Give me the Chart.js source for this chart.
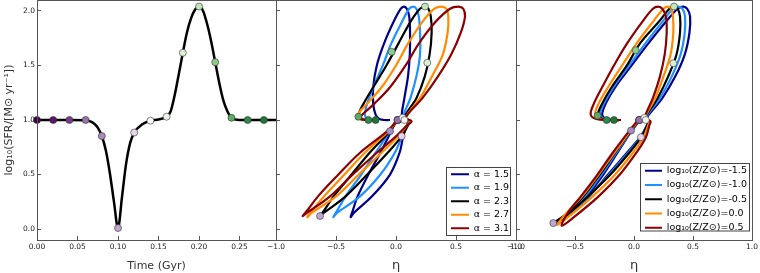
<!DOCTYPE html>
<html>
<head>
<meta charset="utf-8">
<script src="https://cdn.jsdelivr.net/npm/chart.js@4.4.0/dist/chart.umd.min.js"></script>
<style>
html,body{margin:0;padding:0;background:#fff;}
#wrap{position:relative;width:760px;height:273px;overflow:hidden;}
#wrap canvas{position:absolute;left:0;top:0;}
</style>
</head>
<body>
<div id="wrap">
  <canvas id="left" width="760" height="273"></canvas>
  <canvas id="mid" width="760" height="273"></canvas>
  <canvas id="right" width="760" height="273"></canvas>
</div>
<script>
// ---- left panel: log SFR vs time
const sfrTime = [0, 0.02, 0.04, 0.06, 0.065, 0.07, 0.075, 0.08, 0.085, 0.09, 0.095, 0.10, 0.105, 0.11, 0.115, 0.12, 0.13, 0.14, 0.15, 0.16, 0.165, 0.17, 0.175, 0.18, 0.185, 0.19, 0.195, 0.20, 0.205, 0.21, 0.215, 0.22, 0.225, 0.23, 0.235, 0.24, 0.25, 0.26, 0.28, 0.295];
const sfrLog  = [1.0, 1.0, 1.0, 0.998, 0.99, 0.97, 0.93, 0.853, 0.72, 0.51, 0.25, 0.01, 0.3, 0.6, 0.79, 0.885, 0.96, 0.994, 1.005, 1.03, 1.08, 1.23, 1.42, 1.616, 1.80, 1.93, 2.01, 2.04, 2.0, 1.88, 1.72, 1.53, 1.34, 1.18, 1.08, 1.02, 1.0, 1.0, 1.0, 1.0];

const dotTime = [0, 0.02, 0.04, 0.06, 0.08, 0.10, 0.12, 0.14, 0.16, 0.18, 0.20, 0.22, 0.24, 0.26, 0.28];
const dotSfr  = [1.0, 1.0, 1.0, 1.0, 0.853, 0.01, 0.885, 0.994, 1.03, 1.616, 2.04, 1.53, 1.02, 1.0, 1.0];
const dotColors = ['#40004b','#5a1668','#7b3b8c','#9970ab','#a98bc4','#c2a5cf','#e7d4e8','#f7f7f7','#eef6ec','#d9f0d3','#c2e6bb','#8ccc88','#5aae61','#2c8a48','#1b7837'];

// ---- middle panel: eta loops for IMF slope alpha
const alphaLabels = ['α = 1.5', 'α = 1.9', 'α = 2.3', 'α = 2.7', 'α = 3.1'];
const a15Eta = [0.0, -0.04, -0.13, -0.23, -0.32, -0.36, -0.378, -0.35, -0.2, -0.05, 0.03, 0.06, 0.09, 0.1, 0.05, 0.07, 0.1, 0.115, 0.117, 0.11, 0.09, 0.067, 0.04, -0.02, -0.1, -0.16, -0.19, -0.19, -0.17, -0.14, -0.1, -0.05];
const a15Sfr = [1.0, 0.9, 0.7, 0.5, 0.3, 0.17, 0.11, 0.15, 0.3, 0.5, 0.7, 0.85, 0.95, 0.99, 1.02, 1.2, 1.4, 1.6, 1.8, 1.95, 2.02, 2.04, 2.02, 1.9, 1.7, 1.5, 1.3, 1.15, 1.05, 1.01, 1.0, 1.0];
const a19Eta = [0.005, -0.05, -0.17, -0.29, -0.42, -0.49, -0.522, -0.49, -0.3, -0.13, -0.01, 0.05, 0.09, 0.11, 0.06, 0.12, 0.17, 0.2, 0.2, 0.19, 0.17, 0.144, 0.11, 0.05, -0.04, -0.11, -0.19, -0.24, -0.26, -0.24, -0.2, -0.17];
const a19Sfr = [1.0, 0.9, 0.7, 0.5, 0.3, 0.17, 0.11, 0.15, 0.3, 0.5, 0.7, 0.85, 0.95, 0.99, 1.02, 1.2, 1.4, 1.6, 1.8, 1.95, 2.02, 2.04, 2.02, 1.9, 1.7, 1.5, 1.3, 1.15, 1.05, 1.01, 1.0, 1.0];
const a23Eta = [0.014, -0.05, -0.22, -0.37, -0.52, -0.6, -0.633, -0.6, -0.42, -0.24, -0.07, 0.047, 0.1, 0.12, 0.07, 0.17, 0.24, 0.28, 0.297, 0.29, 0.27, 0.242, 0.2, 0.12, 0.02, -0.08, -0.19, -0.27, -0.31, -0.28, -0.23, -0.15];
const a23Sfr = [1.0, 0.9, 0.7, 0.5, 0.3, 0.17, 0.12, 0.15, 0.3, 0.5, 0.7, 0.85, 0.95, 0.99, 1.02, 1.2, 1.4, 1.6, 1.8, 1.95, 2.02, 2.04, 2.02, 1.9, 1.7, 1.5, 1.3, 1.15, 1.05, 1.01, 1.0, 1.0];
const a27Eta = [0.01, -0.06, -0.26, -0.43, -0.6, -0.7, -0.739, -0.7, -0.5, -0.31, -0.12, 0.02, 0.09, 0.12, 0.08, 0.2, 0.3, 0.39, 0.43, 0.436, 0.42, 0.38, 0.32, 0.22, 0.1, 0.0, -0.12, -0.24, -0.32, -0.3, -0.25, -0.17];
const a27Sfr = [1.0, 0.9, 0.7, 0.5, 0.3, 0.17, 0.11, 0.15, 0.3, 0.5, 0.7, 0.85, 0.95, 0.99, 1.02, 1.2, 1.4, 1.6, 1.8, 1.95, 2.02, 2.04, 2.02, 1.9, 1.7, 1.5, 1.3, 1.15, 1.05, 1.01, 1.0, 1.0];
const a31Eta = [0.01, -0.07, -0.3, -0.48, -0.65, -0.74, -0.778, -0.74, -0.55, -0.36, -0.16, 0.0, 0.09, 0.13, 0.08, 0.22, 0.35, 0.46, 0.54, 0.575, 0.56, 0.52, 0.45, 0.33, 0.19, 0.08, -0.05, -0.18, -0.28, -0.3, -0.25, -0.17];
const a31Sfr = [1.0, 0.9, 0.7, 0.5, 0.3, 0.17, 0.12, 0.15, 0.3, 0.5, 0.7, 0.85, 0.95, 0.99, 1.02, 1.2, 1.4, 1.6, 1.8, 1.95, 2.02, 2.04, 2.02, 1.9, 1.7, 1.5, 1.3, 1.15, 1.05, 1.01, 1.0, 1.0];
const midDotEta = [0.014, 0.014, 0.014, 0.014, -0.05, -0.633, 0.047, 0.055, 0.07, 0.261, 0.242, -0.036, -0.314, -0.23, -0.17];
const midDotSfr = [1.0, 1.0, 1.0, 1.0, 0.898, 0.12, 0.852, 1.02, 1.0, 1.525, 2.04, 1.625, 1.03, 1.0, 1.0];

// ---- right panel: eta loops for metallicity
const zLabels = ['log₁₀(Z/Z⊙)=-1.5', 'log₁₀(Z/Z⊙)=-1.0', 'log₁₀(Z/Z⊙)=-0.5', 'log₁₀(Z/Z⊙)=0.0', 'log₁₀(Z/Z⊙)=0.5'];
const zm15Eta = [0.05, -0.02, -0.14, -0.26, -0.4, -0.53, -0.66, -0.58, -0.38, -0.22, -0.06, 0.05, 0.11, 0.12, 0.1, 0.24, 0.35, 0.43, 0.47, 0.475, 0.45, 0.418, 0.37, 0.27, 0.12, -0.02, -0.16, -0.24, -0.27, -0.24, -0.18, -0.12];
const zm15Sfr = [1.0, 0.9, 0.7, 0.5, 0.3, 0.15, 0.06, 0.1, 0.3, 0.5, 0.7, 0.84, 0.95, 0.99, 1.01, 1.2, 1.4, 1.6, 1.8, 1.95, 2.02, 2.04, 2.02, 1.9, 1.7, 1.5, 1.3, 1.15, 1.05, 1.01, 1.0, 1.0];
const zm10Eta = [0.048, -0.022, -0.15, -0.275, -0.415, -0.545, -0.67, -0.59, -0.385, -0.21, -0.05, 0.055, 0.11, 0.12, 0.095, 0.22, 0.32, 0.395, 0.43, 0.432, 0.41, 0.376, 0.33, 0.24, 0.095, -0.04, -0.175, -0.255, -0.288, -0.255, -0.19, -0.12];
const zm10Sfr = [1.0, 0.9, 0.7, 0.5, 0.3, 0.15, 0.05, 0.1, 0.3, 0.5, 0.7, 0.84, 0.95, 0.99, 1.01, 1.2, 1.4, 1.6, 1.8, 1.95, 2.02, 2.04, 2.02, 1.9, 1.7, 1.5, 1.3, 1.15, 1.05, 1.01, 1.0, 1.0];
const zm05Eta = [0.045, -0.025, -0.16, -0.29, -0.43, -0.56, -0.684, -0.6, -0.39, -0.2, -0.04, 0.06, 0.11, 0.12, 0.09, 0.2, 0.29, 0.36, 0.39, 0.39, 0.37, 0.339, 0.3, 0.21, 0.05, -0.06, -0.19, -0.27, -0.305, -0.27, -0.2, -0.12];
const zm05Sfr = [1.0, 0.9, 0.7, 0.5, 0.3, 0.15, 0.055, 0.1, 0.3, 0.5, 0.7, 0.84, 0.95, 0.99, 1.01, 1.2, 1.4, 1.6, 1.8, 1.95, 2.02, 2.04, 2.02, 1.9, 1.7, 1.5, 1.3, 1.15, 1.05, 1.01, 1.0, 1.0];
const z00Eta = [0.04, -0.03, -0.165, -0.3, -0.44, -0.57, -0.65, -0.57, -0.35, -0.16, -0.01, 0.08, 0.12, 0.13, 0.09, 0.18, 0.25, 0.31, 0.333, 0.33, 0.315, 0.291, 0.25, 0.16, 0.02, -0.1, -0.22, -0.3, -0.33, -0.29, -0.21, -0.12];
const z00Sfr = [1.0, 0.9, 0.7, 0.5, 0.3, 0.15, 0.04, 0.1, 0.3, 0.5, 0.7, 0.84, 0.95, 0.99, 1.01, 1.2, 1.4, 1.6, 1.8, 1.95, 2.02, 2.04, 2.02, 1.9, 1.7, 1.5, 1.3, 1.15, 1.05, 1.01, 1.0, 1.0];
const z05Eta = [0.035, -0.04, -0.18, -0.31, -0.45, -0.56, -0.613, -0.52, -0.3, -0.12, 0.02, 0.1, 0.13, 0.14, 0.09, 0.16, 0.22, 0.26, 0.277, 0.27, 0.24, 0.206, 0.16, 0.07, -0.06, -0.17, -0.27, -0.34, -0.367, -0.32, -0.22, -0.11];
const z05Sfr = [1.0, 0.9, 0.7, 0.5, 0.3, 0.15, 0.03, 0.1, 0.3, 0.5, 0.7, 0.84, 0.95, 0.99, 1.01, 1.2, 1.4, 1.6, 1.8, 1.95, 2.02, 2.04, 2.02, 1.9, 1.7, 1.5, 1.3, 1.15, 1.05, 1.01, 1.0, 1.0];
const rightDotEta = [0.045, 0.045, 0.045, 0.045, -0.025, -0.684, 0.059, 0.088, 0.10, 0.333, 0.339, 0.014, -0.308, -0.232, -0.17];
const rightDotSfr = [1.0, 1.0, 1.0, 1.0, 0.904, 0.055, 0.843, 1.02, 1.0, 1.52, 2.04, 1.64, 1.04, 1.0, 1.0];

const lineColors = ['#00008b', '#1e90ff', '#000000', '#ff8c00', '#8b0000'];
const yTicks = [0, 0.5, 1.0, 1.5, 2.0];
const timeTicks = [0, 0.05, 0.10, 0.15, 0.20, 0.25];
const etaTicks = [-1.0, -0.5, 0, 0.5, 1.0];

const tickFont = {family: 'DejaVu Sans', size: 7.5};
const fmt = (v, d) => (v < 0 ? '−' : '') + Math.abs(v).toFixed(d);
const pairs = (xs, ys) => xs.map((x, i) => ({x, y: ys[i]}));

const frame = {
  id: 'frame',
  afterDraw(chart) {
    const a = chart.chartArea, c = chart.ctx;
    c.save();
    c.strokeStyle = '#555'; c.lineWidth = 1;
    c.strokeRect(Math.round(a.left) + 0.5, Math.round(a.top) + 0.5, Math.round(a.right - a.left), Math.round(a.bottom - a.top));
    c.restore();
  }
};

// put the legend where matplotlib had it and give it a box
const legendSpot = {
  id: 'legendSpot',
  afterLayout(chart, args, o) {
    const lg = chart.legend;
    if (!lg || o.x === undefined) return;
    lg.left = o.x; lg.right = o.x + lg.width;
    lg.top = o.y; lg.bottom = chart.height;
  },
  beforeDraw(chart, args, o) {
    if (o.box === undefined) return;
    const c = chart.ctx, b = o.box;
    c.save();
    c.fillStyle = '#fff'; c.fillRect(b[0], b[1], b[2], b[3]);
    c.strokeStyle = '#444'; c.lineWidth = 1; c.strokeRect(b[0], b[1], b[2], b[3]);
    c.restore();
  }
};

function lineSet(label, color, eta, sfr, order) {
  return {label, data: pairs(eta, sfr), showLine: true, borderColor: color, backgroundColor: color,
    borderWidth: 2.2, pointRadius: 0, pointHoverRadius: 0, pointBorderWidth: 2, tension: 0.35, order};
}
function dotSet(xs, ys) {
  return {label: '', data: pairs(xs, ys), showLine: false, pointRadius: 3.5, pointBackgroundColor: dotColors,
    pointBorderColor: '#333', pointBorderWidth: 0.6, clip: false, order: 0};
}

function scales(o) {
  return {
    x: {type: 'linear', position: 'bottom', min: o.xmin, max: o.xmax,
      afterBuildTicks: s => { s.ticks = o.xticks.map(v => ({value: v})); },
      afterFit: s => { s.height = 33; s.paddingLeft = 0; s.paddingRight = 0; },
      grid: {drawOnChartArea: false, tickLength: -4, color: '#555'},
      border: {display: false},
      ticks: {font: tickFont, color: '#222', padding: 6.5, maxRotation: 0, autoSkip: false, callback: v => fmt(v, o.xdec)},
      title: {display: true, text: o.xtitle, font: {family: 'DejaVu Sans', size: o.xsize}, color: '#333', padding: {top: 0, bottom: 0}}},
    y: {type: 'linear', position: 'left', min: -0.1, max: 2.1,
      afterBuildTicks: s => { s.ticks = yTicks.map(v => ({value: v})); },
      afterFit: s => { s.width = o.yw; s.paddingTop = 0; s.paddingBottom = 0; },
      grid: {drawOnChartArea: false, tickLength: -4, color: '#555'},
      border: {display: false},
      ticks: {display: o.ylab, font: tickFont, color: '#222', padding: 6, callback: v => fmt(v, 1)},
      title: {display: o.ylab, text: 'log₁₀(SFR/[M⊙ yr⁻¹])', font: {family: 'DejaVu Sans', size: 11}, color: '#333', padding: {top: 3, bottom: 0}}}
  };
}

function legendOpts(width, pad) {
  return {display: true, position: 'chartArea', align: 'start',
    labels: {usePointStyle: true, pointStyle: 'line', pointStyleWidth: width, padding: pad,
      font: {family: 'DejaVu Sans', size: 9.5}, color: '#000',
      filter: it => it.text !== '', sort: (a, b) => a.datasetIndex - b.datasetIndex}};
}

function makeChart(id, datasets, sc, pad, legend, spot) {
  return new Chart(document.getElementById(id), {
    type: 'scatter',
    data: {datasets},
    options: {
      responsive: false, animation: false, devicePixelRatio: 1, events: [],
      layout: {padding: {left: pad[0], right: pad[1], top: 0, bottom: 0}, autoPadding: false},
      scales: sc,
      plugins: {legend, tooltip: {enabled: false}, legendSpot: spot}
    },
    plugins: [frame, legendSpot]
  });
}

makeChart('left', [
  dotSet(dotTime, dotSfr),
  {label: 'SFR', data: pairs(sfrTime, sfrLog), showLine: true, borderColor: '#000', borderWidth: 2.5,
   pointRadius: 0, cubicInterpolationMode: 'monotone', order: 1}
], scales({xmin: 0, xmax: 0.295, xticks: timeTicks, xdec: 2, xtitle: 'Time (Gyr)', xsize: 11, yw: 37, ylab: true}),
  [0, 484], {display: false}, {});

const midSets = [[a15Eta, a15Sfr], [a19Eta, a19Sfr], [a23Eta, a23Sfr], [a27Eta, a27Sfr], [a31Eta, a31Sfr]];
makeChart('mid', [dotSet(midDotEta, midDotSfr)].concat(
  midSets.map((s, i) => lineSet(alphaLabels[i], lineColors[i], s[0], s[1], 5 - i))),
  scales({xmin: -1, xmax: 1, xticks: etaTicks, xdec: 1, xtitle: 'η', xsize: 13, yw: 0, ylab: false}),
  [276, 244], legendOpts(18, 4), {x: 447, y: 165.5, box: [446.5, 167.5, 64, 68]});

const rightSets = [[zm15Eta, zm15Sfr], [zm10Eta, zm10Sfr], [zm05Eta, zm05Sfr], [z00Eta, z00Sfr], [z05Eta, z05Sfr]];
makeChart('right', [dotSet(rightDotEta, rightDotSfr)].concat(
  rightSets.map((s, i) => lineSet(zLabels[i], lineColors[i], s[0], s[1], 5 - i))),
  scales({xmin: -1, xmax: 1, xticks: etaTicks, xdec: 1, xtitle: 'η', xsize: 13, yw: 0, ylab: false}),
  [516, 8], legendOpts(17, 4.75), {x: 640.25, y: 161.2, box: [640.5, 163.5, 109, 67.5]});
</script>
</body>
</html>
